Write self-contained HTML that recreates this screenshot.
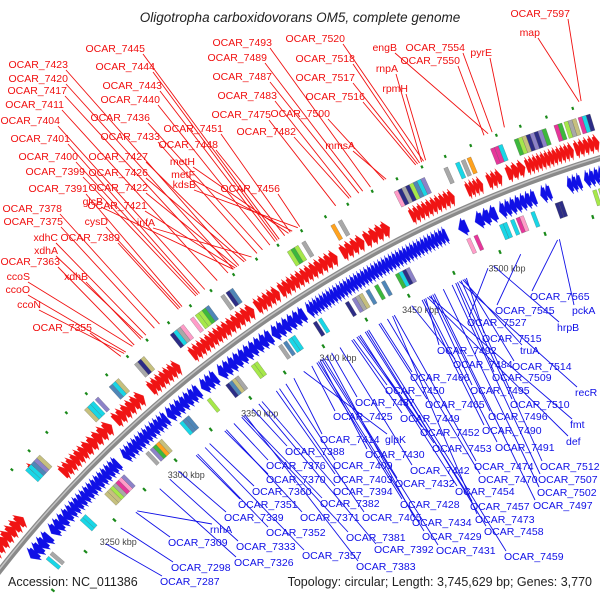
<!DOCTYPE html>
<html><head><meta charset="utf-8"><style>
html,body{margin:0;padding:0;background:#fff;width:600px;height:600px;overflow:hidden;}
svg{display:block;font-family:"Liberation Sans","DejaVu Sans",sans-serif;overflow:hidden;}
</style></head><body>
<svg id="map" width="600" height="600" viewBox="0 0 600 600" xmlns="http://www.w3.org/2000/svg">
<defs><clipPath id="frame"><rect width="600" height="600"/></clipPath></defs>
<rect width="600" height="600" fill="#fff"/>
<g clip-path="url(#frame)">
<g id="rings"></g>
<g id="labels"></g>
</g>
<text x="300" y="22" text-anchor="middle" font-size="13.5" font-style="italic" fill="#222">Oligotropha carboxidovorans OM5, complete genome</text>
<text x="8" y="586" font-size="12.5" fill="#222">Accession: NC_011386</text>
<text x="592" y="586" text-anchor="end" font-size="12.5" fill="#222">Topology: circular; Length: 3,745,629 bp; Genes: 3,770</text>
</svg>
<script>
// ---- data ----
const genomeLength = 3745.629; // kbp
const tickKbp = [3250, 3300, 3350, 3400, 3450, 3500];
const fwdStart = [3206,3261,3277,3297,3320,3346,3366,3385,3399,3417,3434,3447,3472,3502,3513,3523,3533,3558];
const fwdEnd   = [3232,3277,3294,3315,3338,3366,3383,3398,3417,3431,3446,3460,3495,3510,3520,3532,3557,3570];
const fwdCount = [8,6,5,6,7,8,6,5,7,5,4,4,10,4,3,3,12,5];
const loneFwd = [3252];
const revStart = [3220,3236,3249,3288,3318,3340,3351,3384,3405,3491,3500,3513,3535,3549,3558];
const revEnd   = [3234,3249,3284,3317,3338,3349,3383,3403,3484,3495,3511,3532,3540,3556,3570];
const revCount = [4,4,14,12,7,3,10,6,40,1,3,7,2,3,5];
const outerKbp = [3210,3212,3214,3217,3219,3250,3252,3254,3256,3258,3290,3292,3294,3297,3306,3308,3310,3322,3324,3326,3344,3346,3348,3350,3356,3359,3361,3363,3365,3374,3377,3379,3412,3414,3416,3420,3436,3440,3470,3472,3474,3476,3478,3480,3482,3484,3496,3502,3505,3508,3520,3522,3524,3532,3534,3536,3538,3540,3542,3544,3546,3552,3554,3557,3559,3561,3564,3566,3568];
const outerCol = [0,1,2,4,5,1,1,0,8,2,2,1,1,8,0,1,2,5,4,2,4,1,5,7,7,3,3,10,0,5,4,0,3,10,3,5,9,5,7,4,5,4,3,0,1,8,5,1,5,9,6,6,1,10,3,2,4,8,4,8,10,6,10,3,5,2,6,1,4];
const innerKbp = [3224,3227,3250,3252,3268,3270,3272,3274,3276,3278,3280,3297,3300,3302,3304,3306,3320,3322,3324,3338,3350,3352,3354,3356,3366,3368,3383,3386,3389,3391,3404,3407,3423,3427,3429,3431,3435,3440,3444,3452,3454,3456,3458,3492,3496,3510,3512,3516,3519,3521,3527,3540,3542,3560,3563];
const innerCol = [1,5,1,1,2,2,3,5,6,7,8,5,8,10,9,2,1,0,0,3,4,0,2,5,3,3,5,0,1,1,4,1,4,8,5,2,0,10,0,10,1,4,8,7,6,1,1,1,6,7,1,4,4,3,3];
const greenOuter = [3208,3222,3236,3246,3258,3270,3283,3296,3309,3322,3334,3347,3360,3372,3385,3398,3410,3423,3436,3448,3461,3474,3487,3499,3512,3525,3537,3550,3563];
const greenInner = [3214,3240,3262,3284,3306,3330,3356,3378,3402,3428,3453,3479,3505,3530,3556];
const palette = ['#4f86b8','#19d6e6','#c6c07e','#a6e84a','#2c2c86','#a8a8a8','#e6359a','#ff9cc8','#8c82c8','#ffa21e','#3cb83c'];
const redNames = ['OCAR_7597','map','OCAR_7554','engB','pyrE','OCAR_7550','OCAR_7520','OCAR_7518','rnpA','OCAR_7493','OCAR_7489','rpmH','OCAR_7517','OCAR_7487','OCAR_7516','OCAR_7483','OCAR_7500','OCAR_7475','OCAR_7482','mmsA','OCAR_7445','OCAR_7444','OCAR_7443','OCAR_7440','OCAR_7436','OCAR_7451','OCAR_7433','OCAR_7448','metH','metF','kdsB','OCAR_7456','OCAR_7423','OCAR_7420','OCAR_7417','OCAR_7411','OCAR_7404','OCAR_7401','OCAR_7400','OCAR_7399','OCAR_7391','OCAR_7427','OCAR_7426','OCAR_7422','OCAR_7421','glcB','infA','cysD','OCAR_7378','OCAR_7375','OCAR_7389','xdhC','xdhA','OCAR_7363','xdhB','ccoS','ccoO','ccoN','OCAR_7355'];
const redLocus = [7597,7596,7554,7552,7560,7550,7520,7518,7519,7493,7489,7521,7517,7487,7516,7483,7500,7475,7482,7501,7445,7444,7443,7440,7436,7451,7433,7448,7450,7452,7455,7456,7423,7420,7417,7411,7404,7401,7400,7399,7391,7427,7426,7422,7421,7420,7430,7390,7378,7375,7389,7370,7368,7363,7367,7362,7358,7357,7355];
const redX = [570,540,465,397,492,460,345,355,398,272,267,408,355,272,365,277,330,271,296,355,145,155,162,160,150,223,160,218,195,195,196,280,68,68,67,64,60,70,78,85,88,148,148,148,147,103,155,108,62,63,120,58,58,60,88,30,30,41,92];
const redY = [17,36,51,51,56,64,42,62,72,46,61,92,81,80,100,99,117,118,135,149,52,70,89,103,121,132,140,148,165,178,188,192,68,82,94,108,124,142,160,175,192,160,176,191,209,205,226,225,212,225,241,241,254,265,280,280,293,308,331];
const blueNames = ['OCAR_7565','pckA','OCAR_7545','OCAR_7527','hrpB','OCAR_7515','OCAR_7492','truA','OCAR_7484','OCAR_7514','OCAR_7466','OCAR_7509','OCAR_7495','recR','OCAR_7450','OCAR_7437','OCAR_7465','OCAR_7510','OCAR_7425','OCAR_7449','OCAR_7496','fmt','OCAR_7452','OCAR_7490','OCAR_7414','glpK','OCAR_7430','OCAR_7453','OCAR_7491','def','OCAR_7388','OCAR_7409','OCAR_7442','OCAR_7474','OCAR_7512','OCAR_7376','OCAR_7403','OCAR_7470','OCAR_7507','OCAR_7370','OCAR_7432','OCAR_7454','OCAR_7502','OCAR_7360','OCAR_7394','OCAR_7351','OCAR_7382','OCAR_7428','OCAR_7457','OCAR_7497','OCAR_7339','OCAR_7371','OCAR_7405','OCAR_7473','OCAR_7352','OCAR_7434','OCAR_7458','rnhA','OCAR_7381','OCAR_7429','OCAR_7309','OCAR_7333','OCAR_7392','OCAR_7431','OCAR_7326','OCAR_7357','OCAR_7459','OCAR_7298','OCAR_7383','OCAR_7287'];
const blueLocus = [7565,7566,7545,7527,7530,7515,7492,7513,7484,7514,7466,7509,7495,7511,7450,7437,7465,7510,7425,7449,7496,7494,7452,7490,7414,7420,7430,7453,7491,7493,7388,7409,7442,7474,7512,7376,7403,7470,7507,7370,7432,7454,7502,7360,7394,7351,7382,7428,7457,7497,7339,7371,7405,7473,7352,7434,7458,7310,7381,7429,7309,7333,7392,7431,7326,7357,7459,7298,7383,7287];
const blueX = [530,572,495,467,557,482,437,520,453,512,410,492,470,575,385,355,425,510,333,400,488,570,420,482,320,385,365,432,495,566,285,333,410,474,540,266,333,478,538,266,395,455,537,252,333,238,320,400,470,533,224,300,362,475,266,412,484,210,346,422,168,236,374,436,234,302,504,171,356,160];
const blueY = [300,314,314,326,331,342,354,354,368,370,381,381,394,396,394,406,408,408,420,422,420,428,436,434,443,443,458,452,451,445,455,469,474,470,470,469,483,483,483,483,487,495,496,495,495,508,507,508,510,509,521,521,521,523,536,526,535,533,541,540,546,550,553,554,566,559,560,571,570,585];

// ---- geometry ----
const CX = 955.6, CY = 1318.8, R = 1214;
const NS = 'http://www.w3.org/2000/svg';
const rings = document.getElementById('rings');
const labelsG = document.getElementById('labels');
function ang(k){ return k / genomeLength * 2 * Math.PI; }
function pt(r, k){ const a = ang(k); return [CX + r*Math.sin(a), CY - r*Math.cos(a)]; }
function locusKbp(n){ return 3250 + (n - 7287) * 1.025; }
function mk(tag, attrs, parent){ const e = document.createElementNS(NS, tag); for (const k in attrs) e.setAttribute(k, attrs[k]); parent.appendChild(e); return e; }
function poly(pts){ return pts.map(p => p[0].toFixed(1)+','+p[1].toFixed(1)).join(' '); }
function arcPath(r, k1, k2){
  const a = pt(r,k1), b = pt(r,k2);
  return 'M'+a[0].toFixed(1)+','+a[1].toFixed(1)+' A'+r+','+r+' 0 0 1 '+b[0].toFixed(1)+','+b[1].toFixed(1);
}

const bb1 = mk('path', {d: arcPath(R, 3196, 3580), fill:'none', stroke:'#8a8a8a', 'stroke-width':6}, rings);


const bb2 = mk('path', {d: arcPath(R+1, 3196, 3580), fill:'none', stroke:'#c4c4c4', 'stroke-width':1.5}, rings);



function arrow(k1, k2, r0, r1, fwd, color, name){
  const w = k2 - k1, mid = (r0 + r1)/2;
  let pts;
  if (fwd){
    const h = k1 + w*0.3;
    pts = [pt(r0,k1), pt(r1,k1), pt(r1,h), pt(r1+3,h), pt(mid,k2), pt(r0-3,h), pt(r0,h)];
  } else {
    const h = k2 - w*0.3;
    pts = [pt(r0,k2), pt(r1,k2), pt(r1,h), pt(r1+3,h), pt(mid,k1), pt(r0-3,h), pt(r0,h)];
  }
  const p = mk('polygon', {points: poly(pts), fill: color, stroke: color, 'stroke-width': 0.3}, rings);
  
  
}
for (let i = 0; i < fwdStart.length; i++){
  const w = (fwdEnd[i] - fwdStart[i]) / fwdCount[i];
  for (let j = 0; j < fwdCount[i]; j++){
    const s = fwdStart[i] + j*w;
    arrow(s, s + w*1.15, R+9, R+22, true, '#f01414', 'forward-gene');
  }
}
for (const k of loneFwd){ arrow(k, k+2.5, R+38, R+46, true, '#f01414', 'forward-gene'); }
for (let i = 0; i < revStart.length; i++){
  const w = (revEnd[i] - revStart[i]) / revCount[i];
  for (let j = 0; j < revCount[i]; j++){
    const s = revStart[i] + j*w;
    arrow(s - w*0.15, s + w, R-23, R-10, false, '#1010e6', 'reverse-gene');
  }
}
function block(k, col, r0, r1, name){
  const pts = [pt(r0,k), pt(r1,k), pt(r1,k+2), pt(r0,k+2)];
  const p = mk('polygon', {points: poly(pts), fill: palette[col], stroke:'#555', 'stroke-width':0.25}, rings);
  
  
}
for (let i = 0; i < outerKbp.length; i++) block(outerKbp[i], outerCol[i], R+28, R+45, 'outer-feature-block');
for (let i = 0; i < innerKbp.length; i++) block(innerKbp[i], innerCol[i], R-45, R-29, 'inner-feature-block');
for (const k of greenOuter){
  const a = pt(R+54,k), b = pt(R+57,k);
  const l = mk('line', {x1:a[0], y1:a[1], x2:b[0], y2:b[1], stroke:'#1a8a1a', 'stroke-width':2.2}, rings);
  
  
}
for (const k of greenInner){
  const a = pt(R-52,k), b = pt(R-56,k);
  const l = mk('line', {x1:a[0], y1:a[1], x2:b[0], y2:b[1], stroke:'#1a8a1a', 'stroke-width':2.2}, rings);
  
  
}
for (const k of tickKbp){
  const p = pt(R-72, k + 5);
  const t = mk('text', {x:p[0].toFixed(1), y:(p[1]+3).toFixed(1), 'text-anchor':'middle', 'font-size':9, fill:'#444'}, rings);
  t.textContent = k + ' kbp';
  
  
}
for (let i = 0; i < redNames.length; i++){
  const t = mk('text', {x:redX[i], y:redY[i], 'text-anchor':'end', 'font-size':10.5, fill:'#f01010'}, labelsG);
  t.textContent = redNames[i];
  
  
  const e = pt(R+60, locusKbp(redLocus[i]));
  const l = mk('line', {x1:redX[i]-2, y1:redY[i]+2, x2:e[0].toFixed(1), y2:e[1].toFixed(1), stroke:'#f01010', 'stroke-width':0.9}, labelsG);
  
  
}
for (let i = 0; i < blueNames.length; i++){
  const t = mk('text', {x:blueX[i], y:blueY[i], 'font-size':10.5, fill:'#1010e6'}, labelsG);
  t.textContent = blueNames[i];
  
  
  const e = pt(R-64, locusKbp(blueLocus[i]));
  const l = mk('line', {x1:blueX[i]+2, y1:blueY[i]-9, x2:e[0].toFixed(1), y2:e[1].toFixed(1), stroke:'#1010e6', 'stroke-width':0.9}, labelsG);
  
  
}
</script>
</body></html>
